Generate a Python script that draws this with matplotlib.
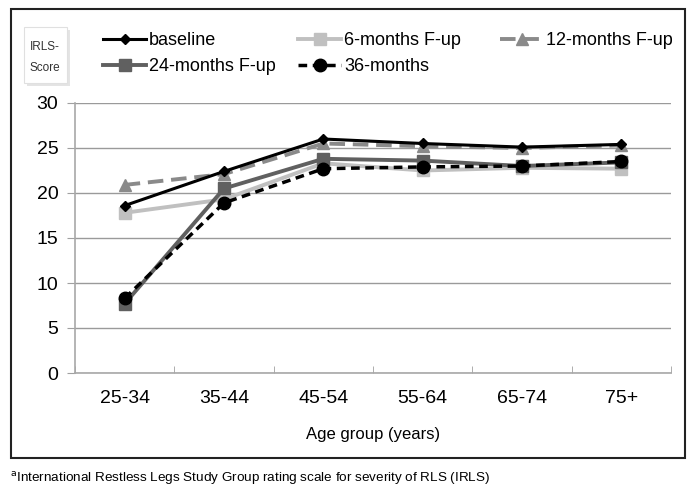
import matplotlib
matplotlib.use("Agg")
import matplotlib.pyplot as plt
from matplotlib.patches import Rectangle

plt.rcParams['font.family'] = ['Liberation Sans', 'DejaVu Sans']

# data
age_groups = ['25-34', '35-44', '45-54', '55-64', '65-74', '75+']
baseline = [18.6, 22.4, 26.0, 25.5, 25.1, 25.4]
fup_6 = [17.8, 19.3, 23.3, 22.5, 22.8, 22.7]
fup_12 = [20.9, 22.1, 25.5, 25.2, 25.0, 25.3]
fup_24 = [7.7, 20.5, 23.8, 23.6, 23.0, 23.4]
fup_36 = [8.3, 18.9, 22.7, 22.9, 23.0, 23.5]

fig = plt.figure(figsize=(6.95, 4.94), dpi=100)
ax = fig.add_axes([75/695, 1 - 373/494, 596/695, 270/494])

x = range(len(age_groups))
l_base, = ax.plot(x, baseline, color='black', lw=2.2, marker='D', ms=5, label='baseline', zorder=6)
l_6, = ax.plot(x, fup_6, color='#c0c0c0', lw=2.8, marker='s', ms=8.5, label='6-months F-up', zorder=3)
l_12, = ax.plot(x, fup_12, color='#8a8a8a', lw=2.8, ls=(0, (4, 2)), marker='^', ms=9, label='12-months F-up', zorder=5)
l_24, = ax.plot(x, fup_24, color='#606060', lw=2.8, marker='s', ms=8.5, label='24-months F-up', zorder=4)
l_36, = ax.plot(x, fup_36, color='black', lw=2.5, ls=(0, (2.5, 1.6)), marker='o', ms=9, label='36-months', zorder=7)

ax.set_xlim(-0.5, 5.5)
ax.set_ylim(0, 30)
ax.set_yticks(range(0, 31, 5))
ax.yaxis.grid(True, color='#9a9a9a', lw=1)
ax.set_axisbelow(True)
ax.set_xticks(list(x))
ax.set_xticklabels(age_groups)
ax.set_xticks([i + 0.5 for i in range(-1, 6)], minor=True)
ax.tick_params(axis='x', which='major', length=0, labelsize=14, pad=12)
ax.tick_params(axis='x', which='minor', length=5, color='#a0a0a0', direction='in')
ax.tick_params(axis='y', length=6, color='#a0a0a0', labelsize=14, pad=6)
for s in ['top', 'right']:
    ax.spines[s].set_visible(False)
for s in ['left', 'bottom']:
    ax.spines[s].set_color('#a8a8a8')
    ax.spines[s].set_linewidth(1.2)
ax.set_xlabel('Age group (years)', fontsize=12, labelpad=15)

# legend: three columns placed by hand
legend_cols = [([l_base, l_24], 103), ([l_6, l_36], 298), ([l_12], 500)]
for lines, xpix in legend_cols:
    fig.legend(lines, [l.get_label() for l in lines], loc='upper left',
               bbox_to_anchor=(xpix/695, 1 - 32/494), frameon=False, fontsize=13,
               handlelength=2.4, handletextpad=0.15, labelspacing=0.5, borderaxespad=0,
               borderpad=0)

# IRLS-Score label box
fig.patches.append(Rectangle((27/695, 1 - 86/494), 43/695, 56/494, transform=fig.transFigure,
                             facecolor='#e4e4e4', edgecolor='none', zorder=0))
fig.patches.append(Rectangle((24/695, 1 - 83/494), 43/695, 56/494, transform=fig.transFigure,
                             facecolor='white', edgecolor='#e0e0e0', lw=0.8, zorder=1))
fig.text(45/695, 1 - 47/494, 'IRLS-', fontsize=8.5, color='#333333', ha='center', va='center')
fig.text(45/695, 1 - 68/494, 'Score', fontsize=8.5, color='#333333', ha='center', va='center')

# outer frame
fig.patches.append(Rectangle((11/695, 1 - 458/494), 674/695, 449/494, transform=fig.transFigure,
                             facecolor='none', edgecolor='#222222', lw=1.5))

fig.text(10/695, 1 - 478/494, r'$^{\mathrm{a}}$International Restless Legs Study Group rating scale for severity of RLS (IRLS)',
         fontsize=9.7, ha='left', va='center')

fig.savefig('out.png', dpi=100)
